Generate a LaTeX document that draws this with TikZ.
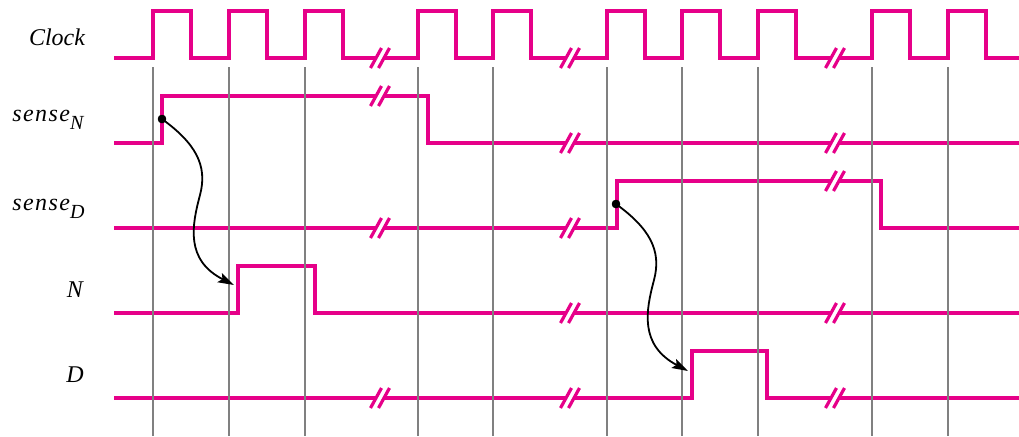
\documentclass[tikz,border=0pt]{standalone}
\usepackage{fontspec}
\setmainfont{Liberation Serif}
\newfontfamily\spacedfont[LetterSpace=6]{Liberation Serif}
\usetikzlibrary{arrows.meta}
\definecolor{wavepink}{RGB}{230,0,137}
\tikzset{
    wave/.style={wavepink, line width=2pt},
    slash/.style={wavepink, line width=1.6pt},
    gridline/.style={gray, line width=0.85pt},
    vertex/.style={circle, fill=black, inner sep=0pt, minimum size=4.2pt},
    cause/.style={-{Stealth[length=8pt, width=5pt, inset=1.5pt]}, line width=0.9pt},
    siglabel/.style={inner sep=0pt, font=\fontsize{12}{14}\selectfont\itshape}
}
\newcommand{\subsig}[1]{\raisebox{-4pt}{\fontsize{10}{11}\selectfont #1}}
\newcommand{\wavebreak}[2]{%
    \draw[white, line width=3pt] (#1-3.5,#2) -- (#1+3.5,#2);
    \draw[slash] (#1-9.5,#2+10) -- (#1+1.5,#2-10);
    \draw[slash] (#1-1.5,#2+10) -- (#1+9.5,#2-10);
}

\begin{document}
\begin{tikzpicture}[x=0.5pt, y=-0.5pt]
    \useasboundingbox (0,0) rectangle (1019,436);

    % labels
    \node[siglabel, anchor=base] (lclk) at (57,45) {Clock};
    \node[siglabel, anchor=base west] (lsn) at (12,121.5) {{\spacedfont\itshape sense}\subsig{N}};
    \node[siglabel, anchor=base west] (lsd) at (12,210) {{\spacedfont\itshape sense}\subsig{D}};
    \node[siglabel, anchor=base] (ln) at (75,297) {N};
    \node[siglabel, anchor=base] (ld) at (75,382) {D};

    % clock
    \draw[wave] (114,58)
        \foreach \r in {153,229,305,418,493,607,682,758,872,948}
            { -- (\r,58) -- (\r,11) -- (\r+38,11) -- (\r+38,58) }
        -- (1019,58);

    % signals
    \draw[wave] (114,143) -| (162,96) -| (428,143) -- (1019,143);
    \draw[wave] (114,228) -| (617,181) -| (881,228) -- (1019,228);
    \draw[wave] (114,313) -| (238,266) -| (315,313) -- (1019,313);
    \draw[wave] (114,398) -| (692,351) -| (767,398) -- (1019,398);

    % breaks in time
    \foreach \x in {380,570,835}
        \wavebreak{\x}{58};
    \wavebreak{380}{96}
    \wavebreak{570}{143}
    \wavebreak{835}{143}
    \wavebreak{380}{228}
    \wavebreak{570}{228}
    \wavebreak{835}{181}
    \wavebreak{570}{313}
    \wavebreak{835}{313}
    \foreach \x in {380,570,835}
        \wavebreak{\x}{398};

    % clock edges
    \foreach \r in {153,229,305,418,493,607,682,758,872,948}
        \draw[gridline] (\r,67) -- (\r,436);

    % cause and effect
    \node[vertex] (sN) at (162,119) {};
    \coordinate (nTip) at (234,285);
    \draw[cause] (sN.center) .. controls (195,143) and (208,165) .. (200,195)
        .. controls (192,225) and (185,260) .. (nTip);

    \node[vertex] (sD) at (616,204) {};
    \coordinate (dTip) at (688,371);
    \draw[cause] (sD.center) .. controls (649,228) and (662,250) .. (654,280)
        .. controls (646,310) and (639,345) .. (dTip);
    \node[vertex] at (sN) {};
    \node[vertex] at (sD) {};
\end{tikzpicture}
\end{document}
